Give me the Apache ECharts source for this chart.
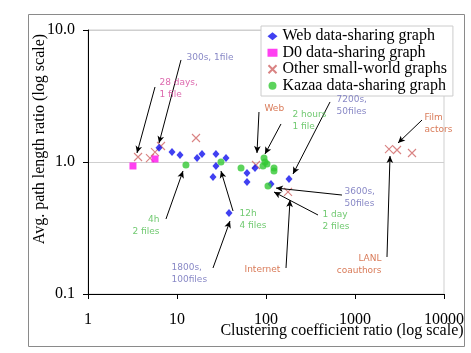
<!DOCTYPE html>
<html><head><meta charset="utf-8">
<script src="https://cdn.jsdelivr.net/npm/echarts@6/dist/echarts.min.js"></script>
<style>html,body{margin:0;padding:0;background:#fff}#c{width:471px;height:353px}</style>
</head><body><div id="c"></div>
<script>
// ---- data (x: clustering coefficient ratio, y: avg path length ratio) ----
const webData = [[6.28,1.28],[8.79,1.19],[10.8,1.13],[16.8,1.07],[19.1,1.15],[27.4,1.15],[35.5,1.07],[27.4,0.933],[25.4,0.77],[38.4,0.411],[61.2,0.825],[61.2,0.705],[75.2,0.901],[113.8,0.681],[181.3,0.743]];
const d0Data = [[3.20,0.933],[5.66,1.054]];
const otherData = [[3.65,1.091],[4.97,1.072],[5.66,1.19],[6.61,1.322],[16.35,1.52],[77.2,0.949],[176.7,0.593],[2410,1.254],[2965,1.233],[4370,1.17]];
const kazaaData = [[12.6,0.949],[31.2,1.0],[52.4,0.901],[95.0,1.072],[97.4,1.0],[92.5,0.933],[102.6,0.966],[123,0.901],[123,0.855],[105.3,0.658]];
const seriesNames = ['Web data-sharing graph','D0 data-sharing graph','Other small-world graphs','Kazaa data-sharing graph'];
const xTickLabels = ['1','10','100','1000','10000'];
const yTickLabels = ['0.1','1.0','10.0'];
// annotations: text, anchor [x,y] in data units, colour group
const annotTexts = ['300s, 1file','28 days,\n1 file','4h\n2 files','Web','2 hours\n1 file','7200s,\n50files','Film\nactors','3600s,\n50files','1 day\n2 files','12h\n4 files','1800s,\n100files','Internet','LANL\ncoauthors'];
const annotAt = [[12.95,6.81],[6.44,4.405],[6.44,0.4037],[97.4,2.80],[201.1,2.52],[628,3.274],[6116,2.392],[772,0.658],[437,0.4405],[51.0,0.448],[8.79,0.1748],[58.1,0.1688],[2011,0.2045]];
const annotGroup = ['p','m','g','r','g','p','r','p','g','g','p','r','r'];
const annotRight = [false,false,true,false,false,false,false,false,false,false,false,false,true];
const arrowFrom = [[11.09,5.93],[5.66,3.70],[7.52,0.370],[83.4,2.392],[147.4,1.941],[524,2.849],[5660,2.08],[714,0.562],[384,0.3967],[42.6,0.4254],[25.38,0.1574],[167.8,0.1574],[2288,0.1907]];
const arrowTo = [[6.28,1.393],[3.553,1.17],[11.68,0.855],[79.2,1.17],[97.4,1.15],[201.1,0.811],[3042,1.393],[129.6,0.635],[123,0.593],[31.2,0.855],[39.4,0.357],[186.1,0.515],[2474,1.11]];

const groupColor = {p:'#6a6ab8', m:'#d4449a', g:'#4cbb4c', r:'#d05a30'};
const serif = '"Liberation Serif", "Times New Roman", serif';

const chart = echarts.init(document.getElementById('c'), null, {renderer:'canvas'});
const lg = v => Math.round(Math.log10(v));
chart.setOption({
  animation:false,
  backgroundColor:'#fff',
  textStyle:{fontFamily:serif},
  grid:{left:88,right:27,top:30,bottom:59,containLabel:false,outerBoundsMode:'none',show:true,borderColor:'#cfcfcf',borderWidth:1},
  graphic:[{type:'rect',shape:{x:28.5,y:14.5,width:436,height:332},style:{fill:'none',stroke:'#8a8a8a',lineWidth:1},silent:true,z:-1}],
  legend:{
    data:seriesNames, orient:'vertical', left:261, top:26,
    backgroundColor:'#fff', borderColor:'#cccccc', borderWidth:1,
    padding:[2,6,2,5], itemGap:0, itemWidth:10, itemHeight:8,
    formatter:n=>'{s|'+n+'}',
    textStyle:{fontFamily:serif,fontSize:16,color:'#000',lineHeight:16.5,
      rich:{s:{fontFamily:serif,fontSize:16,color:'#000',lineHeight:16.5}}}
  },
  xAxis:{
    type:'log', logBase:10, min:1, max:10000,
    axisLine:{lineStyle:{color:'#000',width:1}},
    axisTick:{show:true,length:5,lineStyle:{color:'#000'}},
    minorTick:{show:false}, splitLine:{show:false},
    axisLabel:{margin:18,fontFamily:serif,fontSize:16,color:'#000',formatter:v=>xTickLabels[lg(v)]},
    name:'Clustering coefficient ratio (log scale)', nameLocation:'middle', nameGap:29, nameMoveOverlap:false,
    nameTextStyle:{fontFamily:serif,fontSize:16,color:'#000',verticalAlign:'top',padding:[0,0,0,152]}
  },
  yAxis:{
    type:'log', logBase:10, min:0.1, max:10,
    axisLine:{lineStyle:{color:'#000',width:1}},
    axisTick:{show:true,length:5,lineStyle:{color:'#000'}},
    splitLine:{show:true,lineStyle:{color:'#cfcfcf',width:1}},
    axisLabel:{margin:13,fontFamily:serif,fontSize:16,color:'#000',formatter:v=>yTickLabels[lg(v)+1]},
    name:'Avg. path length ratio (log scale)', nameLocation:'middle', nameGap:40, nameMoveOverlap:false,
    nameTextStyle:{fontFamily:serif,fontSize:16,color:'#000',padding:[0,0,0,46]}
  },
  series:[
    {name:seriesNames[0],type:'scatter',symbol:'diamond',symbolSize:[7,8],itemStyle:{color:'#1010ee'},data:webData,z:4},
    {name:seriesNames[1],type:'scatter',symbol:'rect',symbolSize:7,itemStyle:{color:'#ff10ee'},data:d0Data,z:3},
    {name:seriesNames[2],type:'scatter',symbol:'path://M0,0L10,10M10,0L0,10',symbolSize:8,
      itemStyle:{color:'none',borderColor:'#d06464',borderWidth:1.1},data:otherData,z:2},
    {name:seriesNames[3],type:'scatter',symbol:'circle',symbolSize:7,itemStyle:{color:'#33c833'},data:kazaaData,z:5},
    {name:'annot',type:'scatter',symbolSize:1,silent:true,itemStyle:{color:'transparent'},z:6,
      data:annotTexts.map((t,i)=>({value:annotAt[i],label:{show:true,formatter:t,position:[0,0],
        align:annotRight[i]?'right':'left',verticalAlign:'top',color:groupColor[annotGroup[i]],
        fontFamily:'DejaVu Sans',fontSize:9,lineHeight:12}})),
      markLine:{silent:true,symbol:['none','arrow'],symbolSize:[5,7],
        lineStyle:{color:'#000',width:1,type:'solid'},label:{show:false},emphasis:{disabled:true},
        data:arrowFrom.map((f,i)=>[{coord:f},{coord:arrowTo[i]}])}
    }
  ]
});
</script></body></html>
